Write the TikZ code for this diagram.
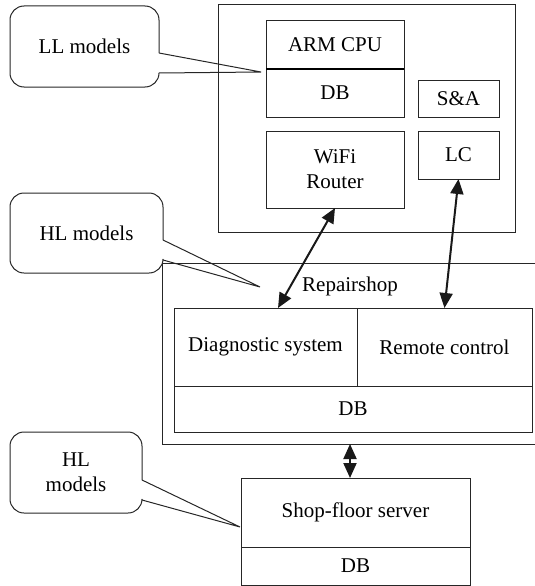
\documentclass[tikz,border=0pt]{standalone}
\usepackage{fontspec}
\setmainfont{Liberation Serif}
\usetikzlibrary{arrows.meta,positioning}
\tikzset{%
  >={Triangle[width=13pt,length=15pt]},
  % Specifications for style of nodes:
        base/.style = {rectangle, draw=black!85, line width=1pt, outer sep=0pt,
                       inner sep=2pt, align=center,
                       font=\fontsize{21}{25}\selectfont},
       block/.style = {base, minimum height=48pt},
       frame/.style = {base, minimum width=297pt, minimum height=227pt},
        note/.style = {base, draw=none},
    noteline/.style = {line width=1pt, draw=black!85, rounded corners=14pt},
        link/.style = {<->, line width=2pt, draw=black!90},
}
\begin{document}
\begin{tikzpicture}[x=1pt, y=-1pt]
\useasboundingbox (0,0) rectangle (535,586);
\clip (0,0) rectangle (535,586);

% device on the car
\node (device) [frame] at (366.5,118.5) {};
\node (ARM)    [block, minimum width=138pt] at (335,45) {ARM CPU};
\node (armDB)  [block, minimum width=138pt, below=0pt of ARM] {DB};
\node (SA)     [block, minimum width=81pt, minimum height=37pt] at (458.5,98.5) {S\&A};
\node (WiFi)   [block, minimum width=138pt, minimum height=77pt] at (335,169.5) {WiFi\\Router};
\node (LC)     [block, minimum width=81pt] at (458.5,155) {LC};
\draw[line width=2pt] (ARM.south west) -- (ARM.south east);

% repairshop
\node (repairshop) [base, minimum width=398pt, minimum height=181pt] at (361,353.5) {};
\node (shopLabel)  [note] at (350,286) {Repairshop};
\node (Diag)   [block, minimum width=183pt, minimum height=78pt] at (265.5,347) {Diagnostic system};
\node (Remote) [block, minimum width=175pt, minimum height=78pt, right=0pt of Diag] {Remote control};
\node (shopDB) [block, minimum width=358pt, minimum height=46pt] at (353,409) {DB};

% shop floor
\node (Server)   [block, minimum width=229pt, minimum height=69pt] at (355.5,512.5) {Shop-floor server};
\node (serverDB) [block, minimum width=229pt, minimum height=38pt, below=0pt of Server] {DB};

\coordinate (busTop) at ([xshift=-5.5pt]Server.north);
\draw[link] (WiFi.south) -- ([xshift=12.5pt]Diag.north);
\draw[link] (LC.south) -- (Remote.north);
\draw[link] (busTop |- repairshop.south) -- (busTop);

% callouts
\node (LLnote) [note, minimum width=149pt, minimum height=81pt] at (84.5,46.5) {LL models};
\coordinate (LLtip) at (261,72);
\draw[noteline] ([yshift=-6.5pt]LLnote.east) -- (LLnote.north east) -- (LLnote.north west)
  -- (LLnote.south west) -- (LLnote.south east) -- ([yshift=-26.5pt]LLnote.east);
\draw[noteline, sharp corners] ([yshift=-6.5pt]LLnote.east) -- (LLtip) -- ([yshift=-26.5pt]LLnote.east);

\node (HLnote) [note, minimum width=153pt, minimum height=80pt] at (86.5,233) {HL models};
\coordinate (HLtip) at (260,287);
\draw[noteline] ([yshift=-7pt]HLnote.east) -- (HLnote.north east) -- (HLnote.north west)
  -- (HLnote.south west) -- (HLnote.south east) -- ([yshift=-27pt]HLnote.east);
\draw[noteline, sharp corners] ([yshift=-7pt]HLnote.east) -- (HLtip) -- ([yshift=-27pt]HLnote.east);

\node (HLnoteB) [note, minimum width=132pt, minimum height=81pt] at (76,472.5) {HL\\models};
\coordinate (HLtipB) at (240,527);
\draw[noteline] ([yshift=-7.5pt]HLnoteB.east) -- (HLnoteB.north east) -- (HLnoteB.north west)
  -- (HLnoteB.south west) -- (HLnoteB.south east) -- ([yshift=-27.5pt]HLnoteB.east);
\draw[noteline, sharp corners] ([yshift=-7.5pt]HLnoteB.east) -- (HLtipB) -- ([yshift=-27.5pt]HLnoteB.east);
\end{tikzpicture}
\end{document}
